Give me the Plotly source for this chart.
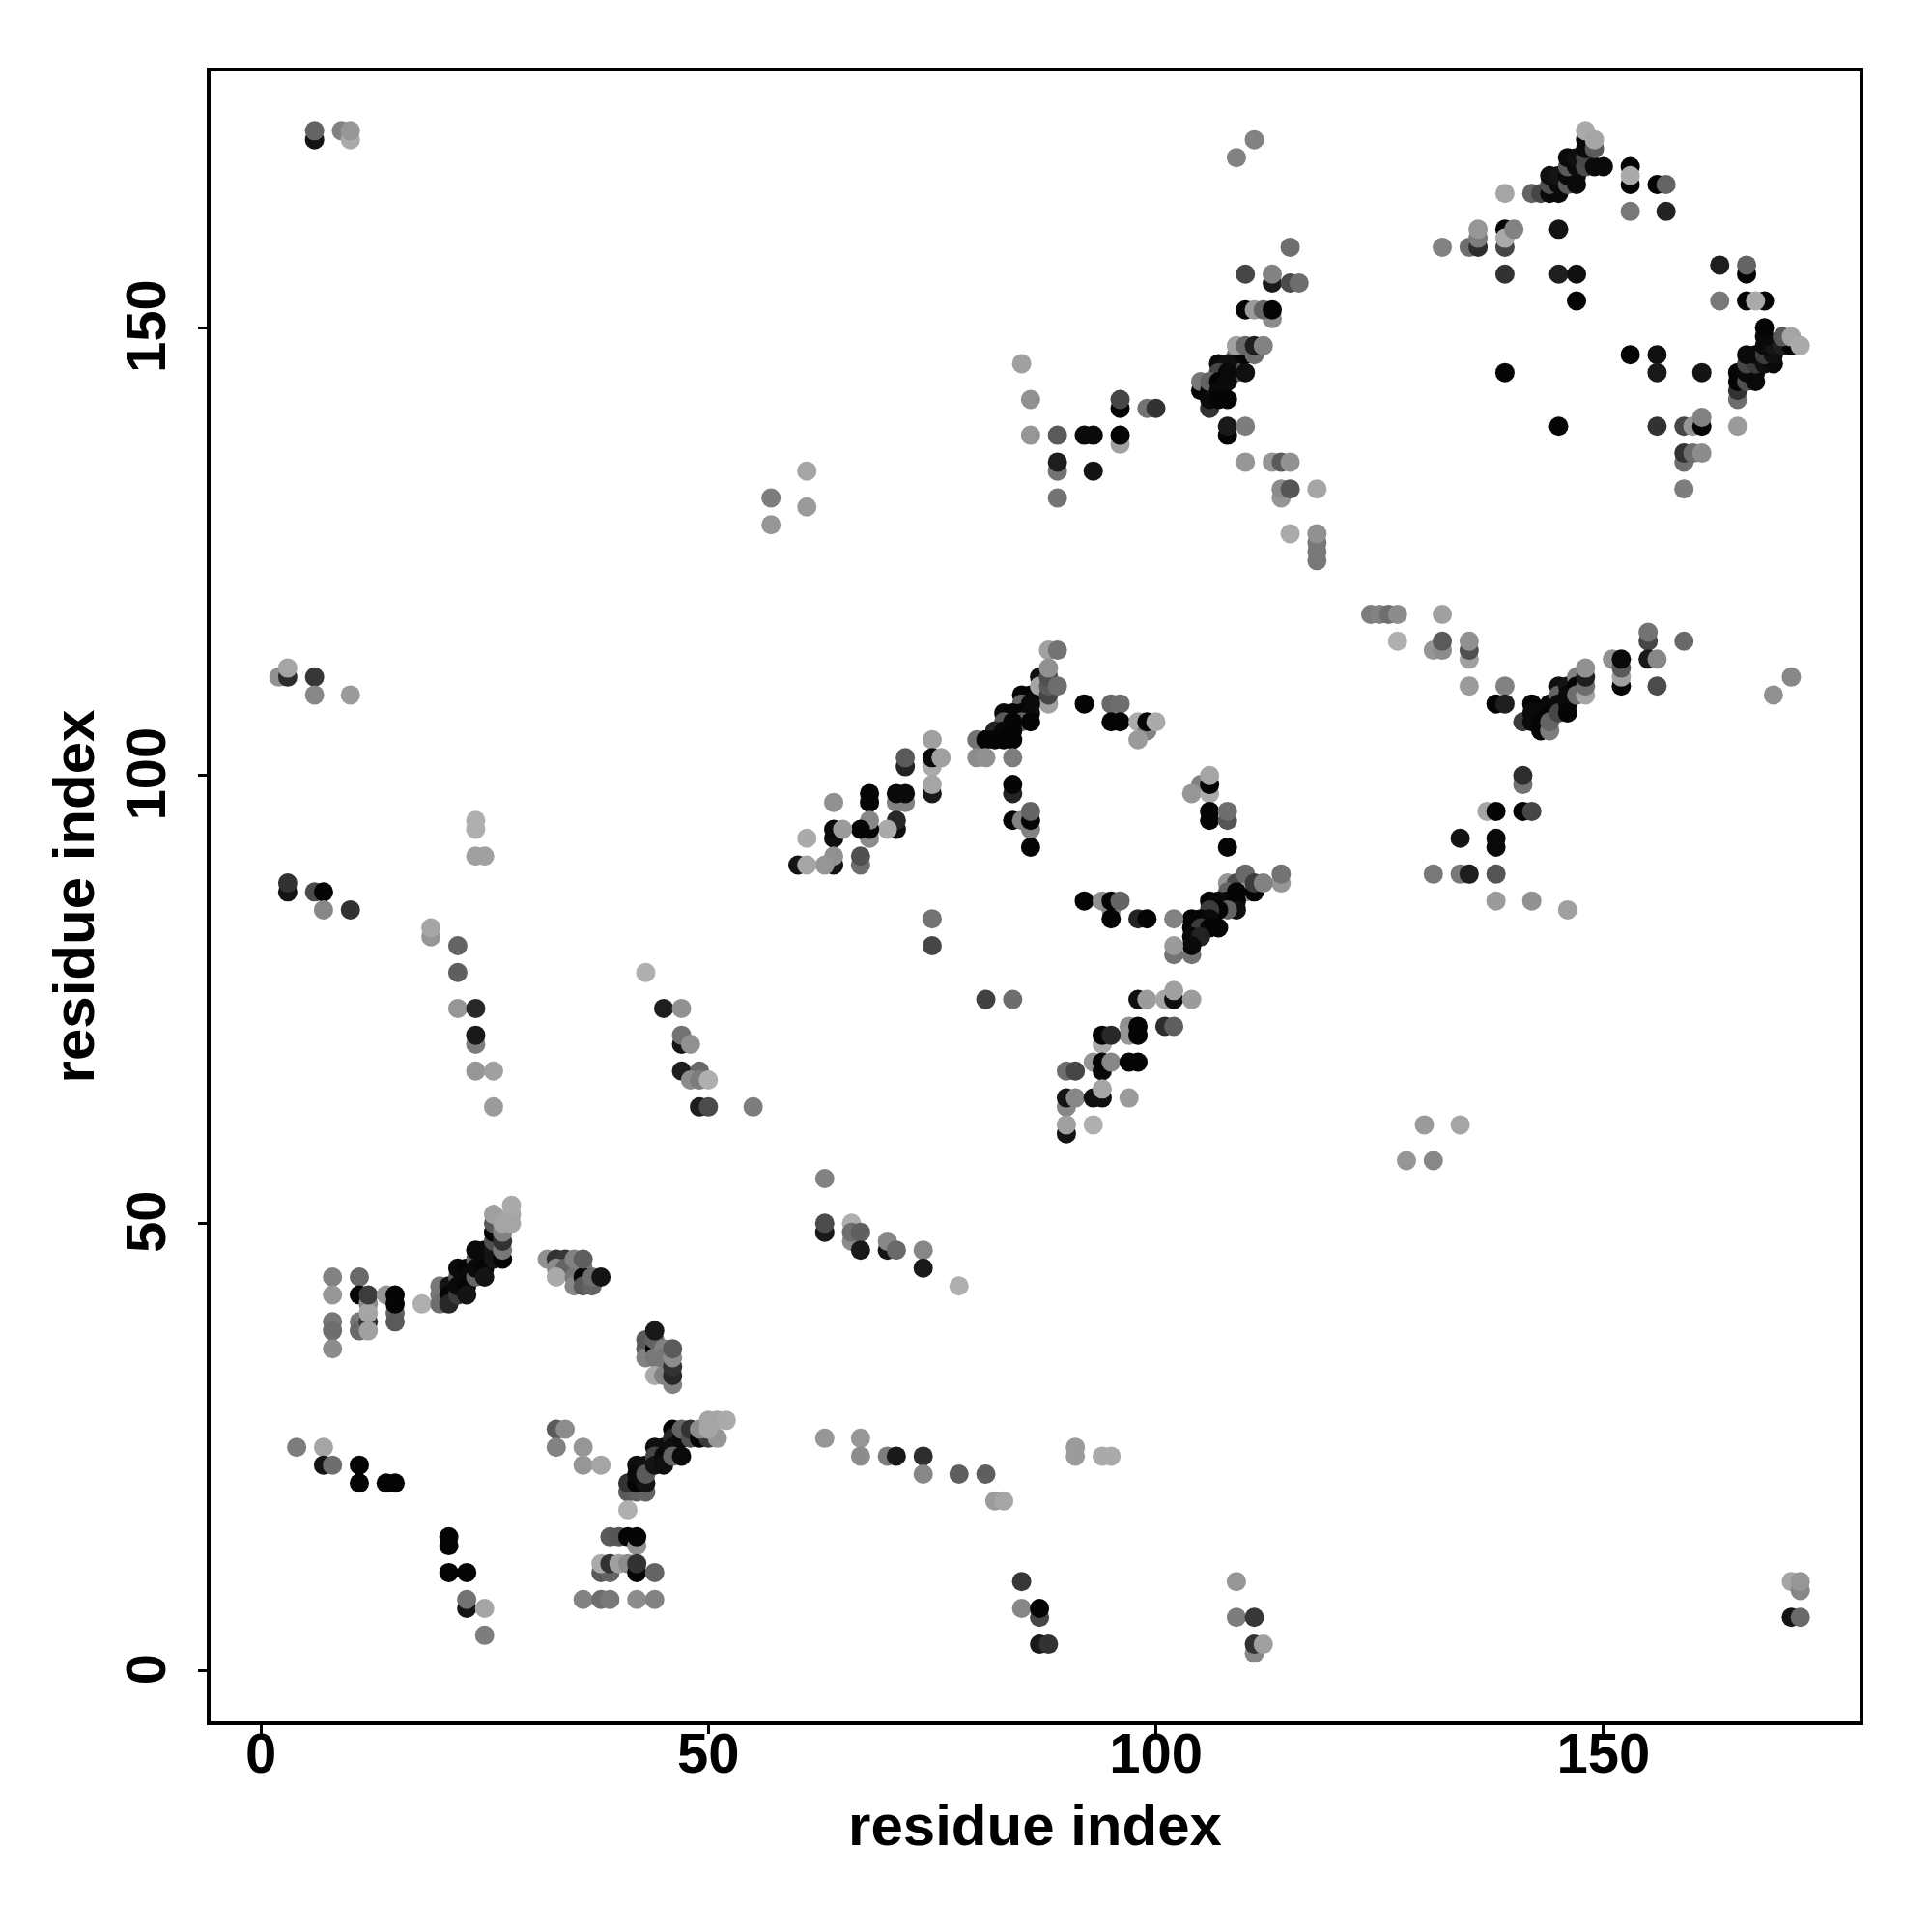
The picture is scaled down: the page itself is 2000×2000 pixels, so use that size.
import plotly.graph_objects as go

# each contact: (residue i, residue j, grey level of the dot)
block_a = [(8,44,130),(8,42,150),(8,39,120),(8,38,110),(8,36,140),(11,44,105),(11,42,5),(11,39,120),(11,38,105),
 (12,41,140),(12,39,50),(12,40,165),(12,38,160),(12,42,60),(14,42,150),(15,40,100),(15,39,90),(15,42,5),(15,41,5),(18,41,175)]
block_b = [(20,43,120),(20,42,120),(20,41,110),(21,43,20),(21,42,5),(21,41,40),(22,44,90),(22,42,60),(22,45,10),(22,43,10),
 (23,45,5),(23,44,10),(23,43,5),(23,42,20),(24,46,100),(24,44,100),(24,47,10),(24,45,10),(25,47,10),(25,46,10),(25,45,5),(25,44,20),
 (26,46,20),(26,47,20),(26,48,80),(26,49,5),(26,50,90),(27,46,5),(27,47,120),(27,48,50),(27,49,130),(26,51,160),(27,50,165),(28,50,165),(28,51,165),(28,52,170)]
block_c = [(32,46,145),(33,46,50),(34,46,55),(33,45,140),(34,45,100),(33,44,170),(35,44,120),(35,43,135),(36,45,120),(36,44,5),(36,43,90),(37,43,100),(37,44,110),
 (35,46,130),(36,46,95),(38,44,20),(43,37,90),(43,36,90),(43,35,130),(44,36,5),(44,37,100),(44,35,120),(44,38,25),(45,36,130),(45,35,120),(45,34,120),(44,33,170),(45,33,130),
 (46,32,130),(46,33,40),(46,34,50),(46,35,140),(46,36,90),(33,27,90),(34,27,140),(33,25,130),(36,25,150),(36,23,150),(38,23,165)]
block_d = [(4,25,125),(7,25,165),(7,23,20),(8,23,110),(11,23,5),(11,21,5),(14,21,5),(15,21,5),
 (41,20,90),(42,20,95),(43,20,100),(41,21,50),(42,21,5),(43,21,20),(42,23,15),(42,22,10),(43,23,15),(43,22,90),(44,25,15),(45,25,15),(44,24,70),(44,23,20),(45,24,10),(45,23,15),
 (46,27,5),(46,26,40),(46,25,15),(46,24,100),(47,24,10),(47,26,10),(47,27,100),(48,26,80),(48,27,50),(49,26,5),(50,26,60),(51,26,150),(49,27,140),(50,27,165),(50,28,165),(51,28,165),(52,28,170),(41,18,175)]
block_e = [(21,15,5),(21,14,5),(21,11,5),(23,11,5),(23,7,20),(23,8,115),(25,7,165),(25,4,125),(39,15,90),(40,15,85),(41,15,5),(42,14,145),(42,15,5),
 (38,11,90),(39,11,100),(38,12,170),(39,12,50),(40,12,160),(41,12,140),(42,11,5),(42,12,50),(44,11,100),(36,8,130),(38,8,110),(39,8,120),(42,8,140),(44,8,130)]
block_f = [(63,55,130),(63,49,25),(63,50,75),(66,50,175),(66,48,140),(66,49,110),(67,49,95),(67,47,25),(70,47,20),(70,48,135),(71,47,105),(74,47,135),(74,45,25),(78,43,175),
 (63,26,150),(67,26,150),(67,24,140),(70,24,125),(71,24,25),(74,24,45),(74,22,135),(78,22,95),(81,22,95),(82,19,155),(83,19,165),(91,25,155),(91,24,155),(94,24,170),(95,24,170)]
block_g = [(85,10,55),(85,7,135),(87,6,70),(87,7,5),(87,3,25),(88,3,50),(109,10,150),(109,6,125),(111,6,55),(111,2,135),(111,3,50),(112,3,160),
 (171,10,165),(172,9,135),(172,10,150),(171,6,20),(172,6,105),(128,57,150),(131,57,135),(130,61,155),(134,61,165)]
block_h = [(2,111,145),(3,111,45),(3,112,165),(6,111,55),(6,109,135),(10,109,155),(24,95,175),(24,94,175),(24,91,160),(25,91,160),(3,87,20),(3,88,50),(6,87,75),(7,87,5),(7,85,135),(10,85,50),
 (19,82,150),(19,83,165),(22,81,100),(22,78,95),(22,74,150),(24,74,40),(24,70,125),(24,71,25),(24,67,150),(26,67,160),(26,63,155),
 (43,78,175),(45,74,30),(47,74,145),(47,70,20),(47,71,115),(48,70,145),(47,67,30),(49,67,105),(48,66,140),(49,66,125),(50,66,175),(49,63,30),(50,63,75),(55,63,125),(6,171,20),(6,172,100),(9,172,130),(10,171,170),(10,172,150)]
block_i = [(88,114,160),(89,114,115),(87,111,15),(87,109,15),(85,109,5),(86,109,5),(87,110,165),(88,108,160),(88,109,70),(88,110,90),(88,111,80),(88,112,145),(89,110,110),
 (85,108,100),(86,108,10),(83,107,10),(84,107,5),(85,107,5),(86,107,10),(83,106,90),(85,106,100),(84,106,5),(86,106,5),(82,105,35),(83,105,10),(84,105,5),(80,104,115),(81,104,5),(82,104,5),(83,104,5),(84,104,5),
 (80,102,140),(81,102,145),(84,102,125),(84,98,35),(84,99,5),(84,95,5),(85,95,130),(86,94,130),(86,95,5),(86,96,100),(86,92,5),
 (92,108,5),(95,108,105),(96,108,110),(95,106,5),(96,106,5),(98,106,170),(99,105,130),(99,106,5),(100,106,170),(98,104,155)]
block_j = [(75,104,160),(75,101,170),(75,102,10),(76,102,160),(75,98,25),(75,99,165),(72,101,35),(72,102,90),(71,97,130),(72,97,130),(71,98,10),(72,98,10),(71,94,15),(71,95,40),(70,94,170),
 (68,98,5),(68,97,5),(68,93,140),(68,94,5),(68,95,135),(67,94,5),(64,97,145),(64,93,15),(64,94,10),(65,94,155),(61,93,170),(64,90,20),(64,91,145),(63,90,150),(67,90,110),(67,91,80),(60,90,20),(61,90,165),
 (105,99,130),(104,98,150),(106,98,170),(106,99,5),(106,100,165),(106,96,5),(106,95,5),(108,95,85),(108,96,110),(108,92,5),(75,84,115),(75,81,70),(81,75,65),(84,75,110)]
block_k = [(108,88,150),(109,88,75),(110,89,105),(114,88,150),(114,89,115),(108,87,100),(110,87,150),(109,87,5),(111,87,5),(111,88,60),(112,88,130),(108,86,5),(109,86,5),(106,86,5),(107,86,10),(109,85,15),(108,85,100),(107,85,5),(106,85,60),
 (104,84,5),(105,84,5),(106,84,10),(104,83,5),(105,83,60),(106,83,5),(107,83,5),(104,82,10),(105,82,35),(102,84,130),(102,80,115),(104,80,115),(104,81,10),(102,81,155),
 (92,86,5),(94,86,145),(95,85,135),(95,84,5),(95,86,5),(96,86,100),(98,84,35),(99,84,5)]
block_l = [(98,75,15),(99,75,155),(101,75,165),(102,75,15),(102,76,160),(104,75,155),(101,72,45),(102,72,95),(97,72,145),(97,71,150),(98,71,5),(98,72,5),(94,70,170),(94,71,5),(95,71,40),
 (93,68,150),(94,67,10),(94,68,5),(95,68,135),(97,68,5),(98,68,5),(90,67,110),(91,67,70),(90,63,135),(90,64,20),(91,64,135),(93,64,15),(94,64,15),(94,65,165),(97,64,155),(90,60,20),(90,61,160),(93,61,175)]
block_m = [(124,118,125),(125,118,130),(126,118,110),(127,118,140),(132,118,160),(127,115,175),(131,114,150),(132,114,140),(132,115,90),(135,113,160),(135,114,80),(135,115,145),(135,110,155),(139,110,130),(138,108,5),(139,108,30),
 (141,106,60),(142,108,5),(142,107,10),(142,106,10),(143,107,10),(143,106,5),(143,105,5),(144,108,10),(144,107,5),(144,105,125),(144,106,100),(145,110,15),(145,109,100),(145,108,10),(145,107,70),(146,110,20),(146,109,10),(146,108,10),(146,107,5),
 (147,111,130),(147,110,5),(147,109,110),(148,109,165),(148,110,110),(148,111,30),(148,112,145),(151,113,145),(152,110,5),(152,111,160),(152,112,90),(152,113,10),(155,115,70),(155,116,115),(155,113,25),(156,113,135),(156,110,75),(159,115,105),(171,111,135),(169,109,145),
 (141,99,115),(141,100,45),(137,96,165),(138,96,5),(141,96,5),(142,96,70),(134,93,20),(138,92,10),(138,93,10),(131,89,120),(134,89,120),(135,89,30),(138,89,85),(138,86,155),(142,86,145),(146,85,160)]
block_n = [(115,159,110),(110,156,70),(113,155,25),(113,156,130),(115,155,75),(116,155,110),(113,151,140),(110,152,5),(111,152,155),(112,152,100),(113,152,5),
 (109,147,120),(109,146,10),(109,145,100),(110,147,5),(110,145,15),(111,147,110),(109,148,160),(110,148,105),(111,148,30),(112,148,130),
 (107,146,10),(108,146,15),(107,145,70),(108,145,10),(105,143,5),(105,144,120),(106,141,50),(106,142,10),(106,143,10),(106,144,100),(107,144,5),(108,144,10),(107,143,10),(107,142,5),(108,142,5),(108,138,5),(108,139,25),(110,139,125),
 (85,146,160),(86,142,145),(86,138,150),(89,138,90),(89,134,115),(89,135,30),(89,131,115),(92,138,10),(93,138,10),(93,134,20),(96,141,5),(96,142,70),(96,137,160),(96,138,5),(99,141,115),(100,141,50),
 (110,135,150),(113,135,150),(114,135,90),(115,135,145),(114,131,150),(114,132,140),(115,132,85),(118,132,165),(115,127,170),(118,124,120),(118,125,120),(118,126,120),(118,127,145),
 (61,134,165),(61,130,155),(57,131,125),(57,128,150),(109,169,130),(111,171,130)]
block_o = [(132,159,130),(135,159,110),(136,159,45),(136,160,125),(136,161,150),(139,159,70),(139,161,5),(139,160,170),(140,161,130),(139,156,50),(139,145,5),(139,165,165),
 (142,165,100),(143,165,70),(144,165,10),(145,165,10),(144,166,80),(145,166,10),(144,167,15),(145,167,20),(146,166,90),(147,166,10),(146,167,10),(147,167,10),(146,168,90),(147,168,10),(146,169,10),(147,169,15),(148,168,75),(148,169,70),(149,168,10),(150,168,10),
 (148,170,10),(148,171,10),(149,170,90),(148,172,170),(149,171,165),(145,161,20),(145,156,30),(147,156,15),(147,153,5),(145,139,5),(153,166,5),(153,168,5),(153,167,170),(153,163,120),(156,166,5),(157,166,100),(157,163,35),
 (153,147,5),(156,147,15),(156,145,25),(161,145,20),(156,139,50),(159,139,70),(160,139,150),(161,139,5),(161,140,130),(165,139,155),(159,135,110),(159,136,50),(160,136,110),(161,136,140),(159,132,125)]
block_p = [(163,157,30),(166,156,5),(166,157,100),(163,153,120),(166,153,5),(168,153,5),(167,153,170),(165,142,110),(165,143,50),(165,144,5),(165,145,5),(166,144,80),(167,144,10),(166,145,10),(167,145,10),(166,146,70),(167,146,60),(166,147,10),(167,147,10),
 (168,146,15),(169,146,10),(168,147,60),(169,147,15),(168,148,10),(169,148,20),(170,148,30),(168,149,10),(168,150,5),(171,148,5),(170,149,90),(171,149,165),(172,148,170)]

blocks = [block_a, block_b, block_c, block_d, block_e, block_f, block_g, block_h, block_i, block_j, block_k, block_l, block_m, block_n, block_o, block_p]
contacts = [c for b in blocks for c in b]
residue_i = [c[0] for c in contacts]
residue_j = [c[1] for c in contacts]
grey = [c[2] for c in contacts]
tick_values = [0, 50, 100, 150]

FONT = "Liberation Sans"
fig = go.Figure(go.Scatter(
    x=residue_i, y=residue_j, mode="markers",
    marker=dict(size=20, color=[f"rgb({g},{g},{g})" for g in grey], line=dict(width=0), opacity=1),
    showlegend=False, hoverinfo="skip", cliponaxis=False))

common = dict(showline=True, mirror=True, linewidth=4, linecolor="black", showgrid=False, zeroline=False,
              ticks="outside", ticklen=9, tickwidth=3, tickcolor="black", tickmode="array",
              tickvals=tick_values, ticktext=[str(t) for t in tick_values],
              tickfont=dict(family=FONT, size=58, color="black", weight=700))
title_font = dict(family=FONT, size=60, color="black", weight=700)
fig.update_xaxes(range=[-5.62, 178.62], ticklabelstandoff=-30, title=dict(text="residue index", font=title_font, standoff=23), **common)
fig.update_yaxes(range=[-5.62, 178.62], ticklabelstandoff=11, ticklabelshift=7, tickangle=-90, title=dict(text="residue index", font=title_font, standoff=2), **common)
fig.update_layout(width=2000, height=2000, plot_bgcolor="white", paper_bgcolor="white",
                  margin=dict(l=210, r=83, t=66, b=226, autoexpand=False))
fig.write_html("out.html")
